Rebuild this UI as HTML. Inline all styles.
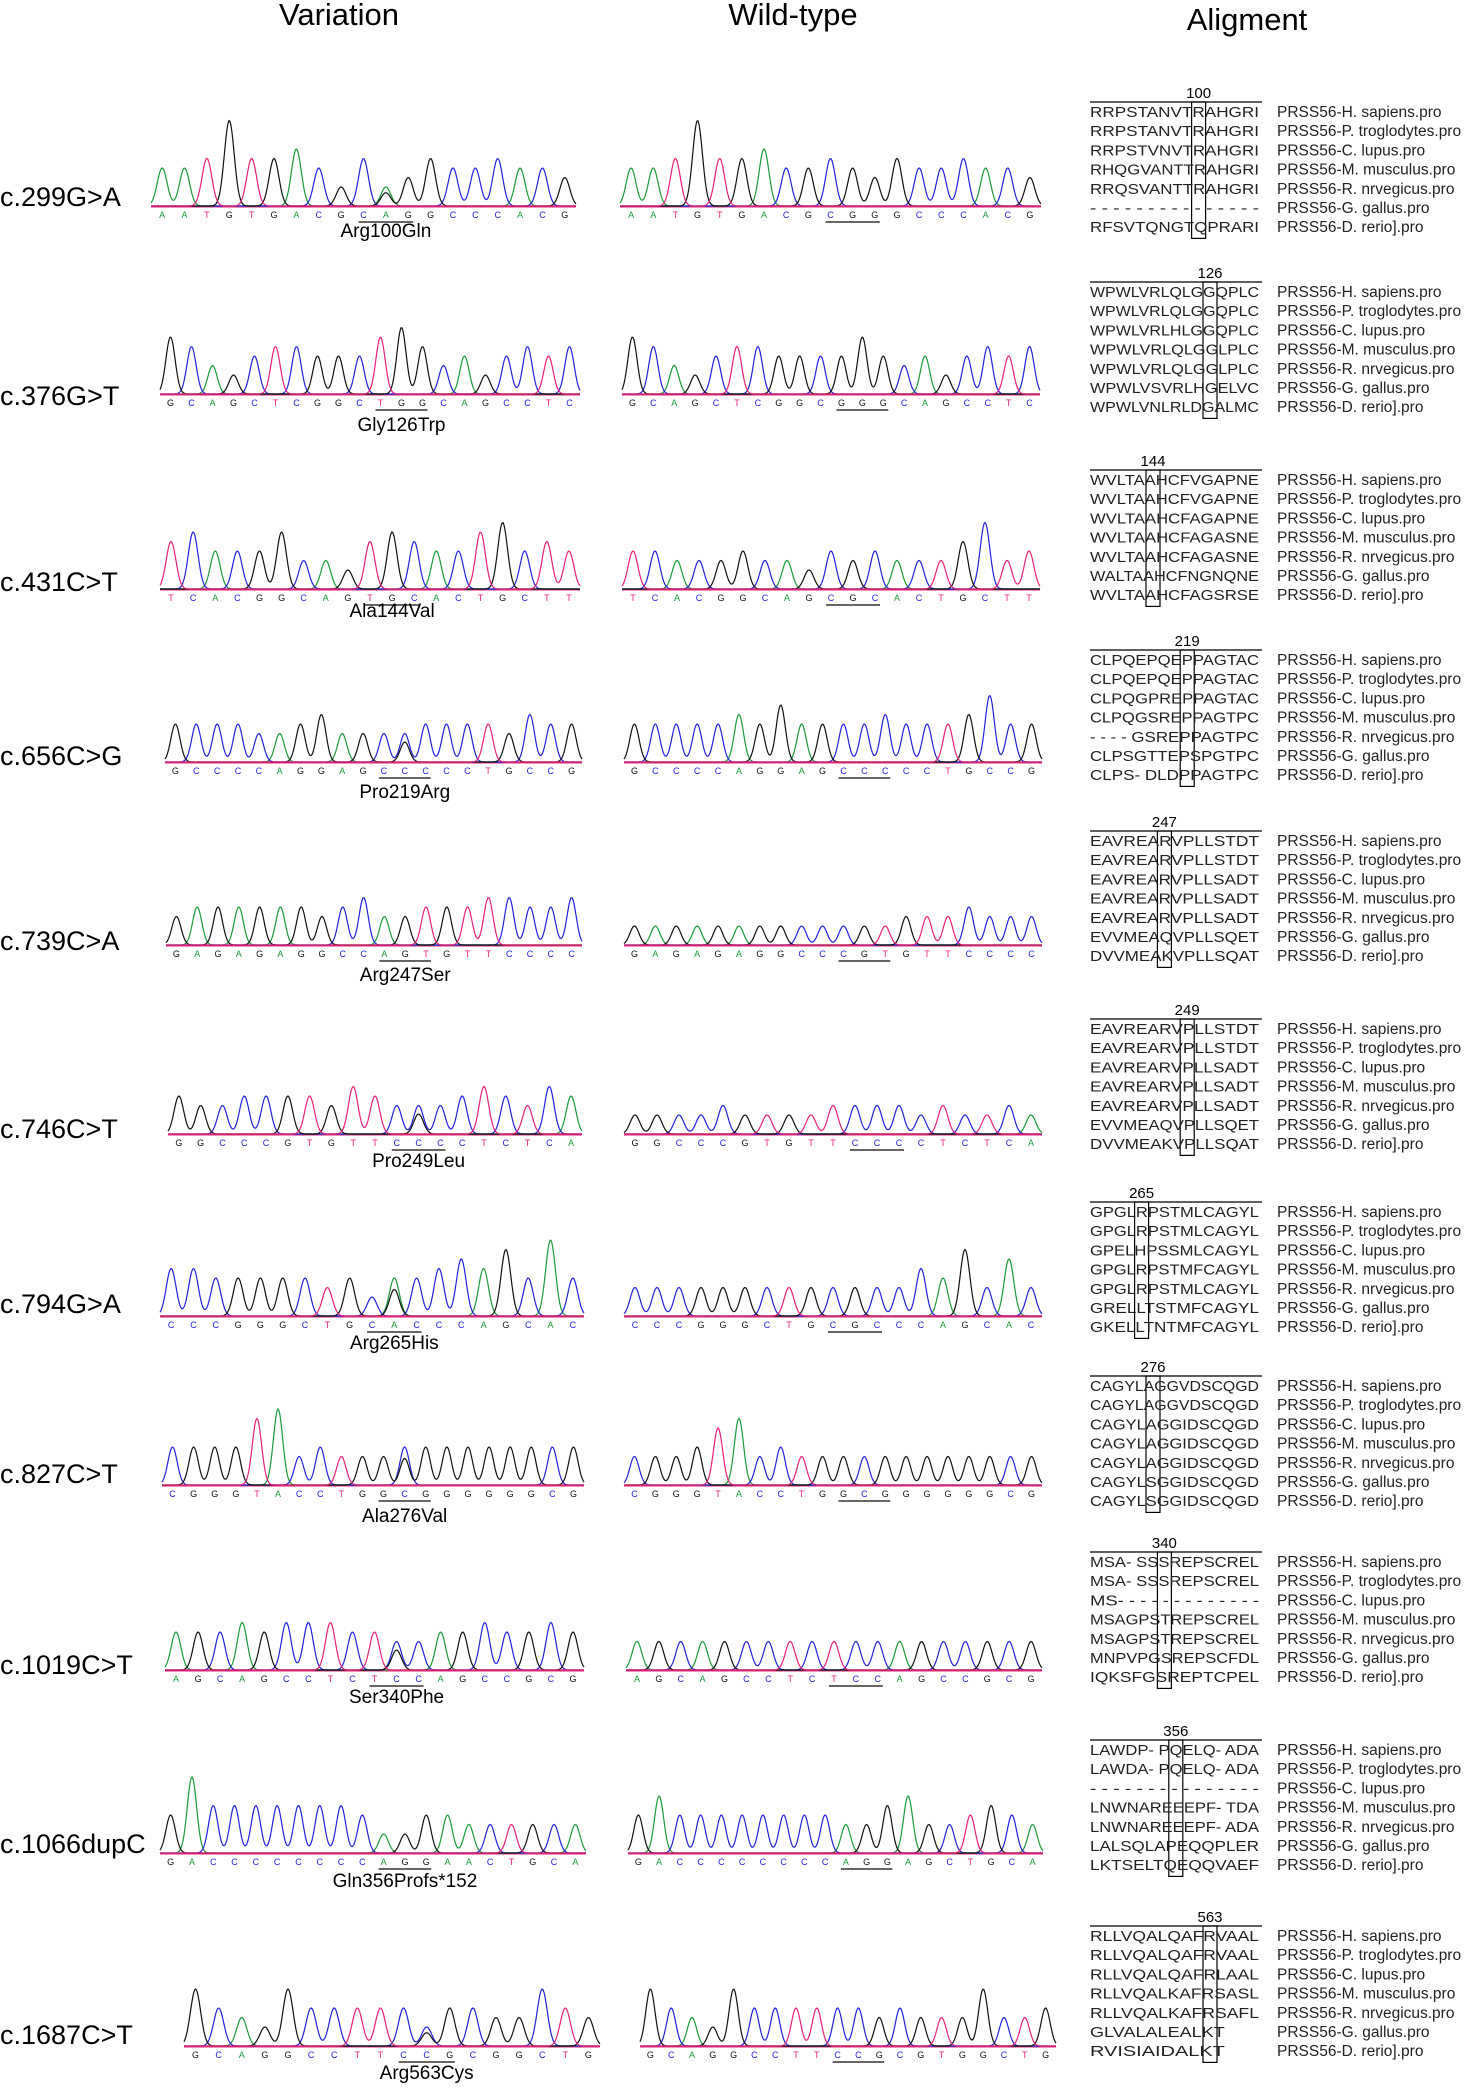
<!DOCTYPE html>
<html><head><meta charset="utf-8">
<style>
html,body{margin:0;padding:0;background:#fff;}
svg{display:block;}
text{font-family:"Liberation Sans",Arial,sans-serif;}
</style></head>
<body>
<svg id="fig" width="1472" height="2089" viewBox="0 0 1472 2089" xmlns="http://www.w3.org/2000/svg">
<text x="339" y="25" font-size="31" text-anchor="middle">Variation</text>
<text x="793" y="25" font-size="31" text-anchor="middle">Wild-type</text>
<text x="1247" y="30" font-size="31" text-anchor="middle">Aligment</text>
<g id="rows"></g>
</svg>
<script>
const labels=["c.299G>A","c.376G>T","c.431C>T","c.656C>G","c.739C>A","c.746C>T","c.794G>A","c.827C>T","c.1019C>T","c.1066dupC","c.1687C>T"];
const protein=["Arg100Gln","Gly126Trp","Ala144Val","Pro219Arg","Arg247Ser","Pro249Leu","Arg265His","Ala276Val","Ser340Phe","Gln356Profs*152","Arg563Cys"];
const mutSeqs=["AATGTGACGCAGGCCCACG","GCAGCTCGGCTGGCAGCCTC","TCACGGCAGTGCACTGCTT","GCCCCAGGAGCCCCCTGCCG","GAGAGAGGCCAGTGTTCCCC","GGCCCGTGTTCCCCTCTCA","CCCGGGCTGCACCCAGCAC","CGGGTACCTGGCGGGGGGCG","AGCAGCCTCTCCAGCCGCG","GACCCCCCCCAGGAACTGCA","GCAGGCCTTCCGCGGCTG"];
const wtSeqs=["AATGTGACGCGGGCCCACG","GCAGCTCGGCGGGCAGCCTC","TCACGGCAGCGCACTGCTT","GCCCCAGGAGCCCCCTGCCG","GAGAGAGGCCCGTGTTCCCC","GGCCCGTGTTCCCCTCTCA","CCCGGGCTGCGCCCAGCAC","CGGGTACCTGGCGGGGGGCG","AGCAGCCTCTCCAGCCGCG","GACCCCCCCCAGGAGCTGCA","GCAGGCCTTCCGCGTGGCTG"];
const codonStart=[9,10,9,10,10,10,9,10,9,10,9];
const mutHeights=[
[4,4,5,9,5,5,6,4,2,5,2,3,5,4,4,5,4,4,3],
[6,5,3,2,4,5,5,4,4,4,6,7,5,3,4,2,4,5,4,5],
[5,6,4,4,4,6,3,3,2,5,6,5,4,4,6,7,4,5,4],
[4,4,4,4,3,3,4,5,3,3,3,3,4,4,4,4,3,5,4,4],
[3,4,4,4,4,4,4,3,4,5,3,3,4,4,4,5,5,4,4,5],
[4,3,3,4,4,4,4,3,5,4,3,3,3,4,5,4,3,5,4],
[5,5,4,4,4,4,4,3,4,2,4,4,5,6,5,7,4,8,4],
[4,4,4,4,7,8,3,4,3,3,3,4,4,4,4,4,4,4,4,4],
[4,4,4,5,4,5,5,5,4,4,3,3,4,4,5,4,4,5,4],
[4,8,5,5,5,5,5,5,5,4,2,2,4,4,3,3,3,3,3,3],
[6,4,3,2,6,4,4,4,4,4,2,4,4,3,3,6,4,3,4,5]];
const wtHeights=[
[4,4,5,9,5,5,6,4,4,5,4,3,5,4,4,5,4,4,3],
[6,5,3,2,4,5,5,4,4,4,4,6,4,3,4,2,4,5,4,5],
[4,4,3,3,3,4,3,3,2,4,3,4,3,3,3,5,7,3,4],
[4,4,4,4,4,5,4,6,4,4,4,4,5,4,4,4,5,7,4,4],
[2,2,2,2,2,2,2,2,2,2,2,2,2,3,3,3,4,3,3,3],
[2,2,2,2,3,2,2,2,2,3,3,3,3,2,3,2,2,3,2],
[3,3,3,3,3,3,3,3,3,3,3,3,3,5,4,7,3,6,3],
[3,3,3,4,6,7,3,4,3,3,3,3,3,3,3,3,3,3,3,3],
[3,3,3,3,3,3,3,3,3,3,3,3,3,3,3,3,3,3,3],
[4,6,4,4,4,4,4,4,4,4,3,3,5,6,3,3,4,5,4,3],
[6,4,3,2,6,4,4,4,4,4,4,3,4,3,3,3,6,3,3,4]];
const letterY=[217,405,600,773,956,1145,1327,1496,1681,1864,2057];
const annoY=[237,431,617,798,981,1167,1349,1522,1703,1887,2079];
const labelY=[206,405,591,765,950,1138,1313,1483,1674,1853,2044];
const alignTop=[91,271,459,639,820,1008,1191,1365,1541,1729,1915];
const posNums=["100","126","144","219","247","249","265","276","340","356","563"];
const boxIdx=[9,10,5,8,6,8,4,5,6,7,10];
const alignSeqs=[
["RRPSTANVTRAHGRI","RRPSTANVTRAHGRI","RRPSTVNVTRAHGRI","RHQGVANTTRAHGRI","RRQSVANTTRAHGRI","- - - - - - - - - - - - - - -","RFSVTQNGTQPRARI"],
["WPWLVRLQLGGQPLC","WPWLVRLQLGGQPLC","WPWLVRLHLGGQPLC","WPWLVRLQLGGLPLC","WPWLVRLQLGGLPLC","WPWLVSVRLHGELVC","WPWLVNLRLDGALMC"],
["WVLTAAHCFVGAPNE","WVLTAAHCFVGAPNE","WVLTAAHCFAGAPNE","WVLTAAHCFAGASNE","WVLTAAHCFAGASNE","WALTAAHCFNGNQNE","WVLTAAHCFAGSRSE"],
["CLPQEPQEPPAGTAC","CLPQEPQEPPAGTAC","CLPQGPREPPAGTAC","CLPQGSREPPAGTPC","- - - - GSREPPAGTPC","CLPSGTTEPSPGTPC","CLPS- DLDPPAGTPC"],
["EAVREARVPLLSTDT","EAVREARVPLLSTDT","EAVREARVPLLSADT","EAVREARVPLLSADT","EAVREARVPLLSADT","EVVMEAQVPLLSQET","DVVMEAKVPLLSQAT"],
["EAVREARVPLLSTDT","EAVREARVPLLSTDT","EAVREARVPLLSADT","EAVREARVPLLSADT","EAVREARVPLLSADT","EVVMEAQVPLLSQET","DVVMEAKVPLLSQAT"],
["GPGLRPSTMLCAGYL","GPGLRPSTMLCAGYL","GPELHPSSMLCAGYL","GPGLRPSTMFCAGYL","GPGLRPSTMLCAGYL","GRELLTSTMFCAGYL","GKELLTNTMFCAGYL"],
["CAGYLAGGVDSCQGD","CAGYLAGGVDSCQGD","CAGYLAGGIDSCQGD","CAGYLAGGIDSCQGD","CAGYLAGGIDSCQGD","CAGYLSGGIDSCQGD","CAGYLSGGIDSCQGD"],
["MSA- SSSREPSCREL","MSA- SSSREPSCREL","MS- - - - - - - - - - - - -","MSAGPSTREPSCREL","MSAGPSTREPSCREL","MNPVPGSREPSCFDL","IQKSFGSREPTCPEL"],
["LAWDP- PQELQ- ADA","LAWDA- PQELQ- ADA","- - - - - - - - - - - - - - -","LNWNAREEEPF- TDA","LNWNAREEEPF- ADA","LALSQLAPEQQPLER","LKTSELTQEQQVAEF"],
["RLLVQALQAFRVAAL","RLLVQALQAFRVAAL","RLLVQALQAFRLAAL","RLLVQALKAFRSASL","RLLVQALKAFRSAFL","GLVALALEALKT","RVISIAIDALKT"]];
const species=["PRSS56-H. sapiens.pro","PRSS56-P. troglodytes.pro","PRSS56-C. lupus.pro","PRSS56-M. musculus.pro","PRSS56-R. nrvegicus.pro","PRSS56-G. gallus.pro","PRSS56-D. rerio].pro"];
const mutX=[[151,576],[160,580],[160,580],[165,582],[166,582],[168,582],[160,584],[162,584],[165,584],[160,586],[184,600]];
const wtX=[[620,1041],[622,1040],[622,1040],[624,1042],[624,1042],[624,1042],[624,1042],[624,1042],[626,1042],[628,1043],[640,1056]];
const COL={A:"#1a9a3a",C:"#2222dd",G:"#111111",T:"#e8207a"};
const NS="http://www.w3.org/2000/svg";
const root=document.getElementById('rows');
function mk(tag,attrs,parent){const e=document.createElementNS(NS,tag);for(const k in attrs)e.setAttribute(k,attrs[k]);parent.appendChild(e);return e;}
function chrom(g,seq,hts,x0,x1,base,codon,isMut,name){
  const n=seq.length, sp=(x1-x0)/n;
  const xs=i=>x0+sp*(i+0.5);
  const unit=9.5, sig=sp*0.22;
  const bl=mk('line',{x1:x0,x2:x1,y1:base,y2:base,stroke:"#e8207a","stroke-width":"1"},g);
  
  
  ['A','C','G','T'].forEach(b=>{
    let d="";
    for(let px=x0;px<=x1;px+=1){
      let v=0;
      for(let i=0;i<n;i++){
        let h=0;
        if(seq[i]===b)h=hts[i];
        if(isMut&&b==="G"&&i===codon+1&&seq[i]!==b)h=hts[i]*0.7;
        if(h){const dx=px-xs(i);v+=h*unit*Math.exp(-dx*dx/(2*sig*sig));}
      }
      d+=(d?"L":"M")+px+","+(base-1-v).toFixed(1);
    }
    const p=mk('path',{d:d,fill:"none",stroke:COL[b],"stroke-width":"1.2"},g);
    
    
  });
  for(let i=0;i<n;i++){
    const t=mk('text',{x:xs(i),y:base+11,"font-size":"9","text-anchor":"middle",fill:COL[seq[i]]},g);
    t.textContent=seq[i];
    
    
  }
  const u=mk('line',{x1:xs(codon)-5,x2:xs(codon+2)+5,y1:base+15,y2:base+15,stroke:"#333","stroke-width":"1.5"},g);
  
  
  return xs(codon+1);
}
for(let r=0;r<labels.length;r++){
  const g=mk('g',{},root);
  
  
  const lb=mk('text',{x:0,y:labelY[r],"font-size":"27"},g);
  lb.textContent=labels[r];
  
  
  const base=letterY[r]-10;
  const cx=chrom(g,mutSeqs[r],mutHeights[r],mutX[r][0],mutX[r][1],base,codonStart[r],true,'variant-chromatogram');
  chrom(g,wtSeqs[r],wtHeights[r],wtX[r][0],wtX[r][1],base,codonStart[r],false,'wildtype-chromatogram');
  const pt=mk('text',{x:cx,y:annoY[r],"font-size":"19","text-anchor":"middle"},g);
  pt.textContent=protein[r];
  
  
  const ag=mk('g',{},g);
  
  
  const sx=1090, cw=11.4, top=alignTop[r];
  const lineY=top+11;
  const tl=mk('line',{x1:sx,x2:sx+172,y1:lineY,y2:lineY,stroke:"#000","stroke-width":"1.3"},ag);
  
  
  const bx=sx+boxIdx[r]*cw-1;
  const num=mk('text',{x:bx+7,y:top+7,"font-size":"15","text-anchor":"middle"},ag);
  num.textContent=posNums[r];
  
  
  const box=mk('rect',{x:bx,y:lineY,width:14,height:19.2*7+2,fill:"none",stroke:"#000","stroke-width":"1.2"},ag);
  
  
  for(let k=0;k<7;k++){
    const y=lineY+15+k*19.2;
    const s=alignSeqs[r][k];
    const len=s.replace(/ /g,'').length;
    const st=mk('text',{x:sx,y:y,"font-size":"14.5",fill:"#222",textLength:(len*cw-2).toFixed(1),lengthAdjust:"spacingAndGlyphs"},ag);
    st.textContent=s;
    
    
    const sp=mk('text',{x:1277,y:y,"font-size":"15.5",fill:"#222"},ag);
    sp.textContent=species[k];
    
    
  }
}
</script>
</body></html>
